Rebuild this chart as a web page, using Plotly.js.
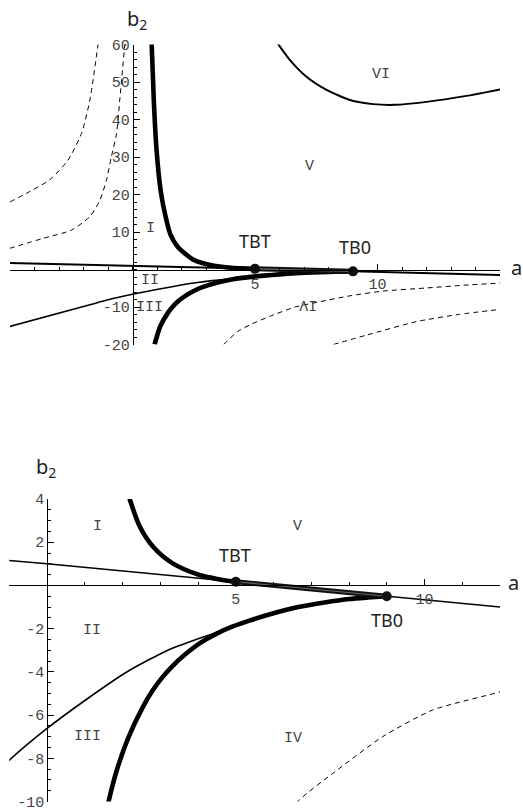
<!DOCTYPE html>
<html>
<head>
<meta charset="utf-8">
<script src="https://cdn.plot.ly/plotly-3.0.1.min.js"></script>
<style>
  html, body { margin: 0; padding: 0; background: #fff; }
  #chart { width: 523px; height: 812px; }
</style>
</head>
<body>
<div id="chart"></div>
<script>
// ---- data (a, b2) ----
// straight tangent line
const lineA = [-5, -1, 0, 5, 9, 12, 15];
const lineB = [1.75, 1.17, 1.0, 0.17, -0.5, -1.0, -1.5];

// thick upper branch (into TBT)
const upThickA = [0.78, 0.87, 0.98, 1.15, 1.32, 1.55, 1.85, 2.19, 2.45, 2.81, 3.33, 4.04, 4.5, 5.0];
const upThickB = [60.5, 45, 32, 21, 15, 9.3, 6.0, 4.0, 2.75, 1.79, 1.02, 0.48, 0.3, 0.17];

// thick lower branch (into TB0)
const lowThickA = [0.9, 1.13, 1.45, 1.63, 1.84, 2.14, 2.54, 2.8, 3.07, 3.33, 3.6, 4.04, 4.48, 4.92, 5.36, 6.0, 6.69, 7.35, 8.01, 8.5, 9.0];
const lowThickB = [-20, -15.2, -11.5, -10, -8.6, -7.1, -5.62, -4.85, -4.22, -3.72, -3.28, -2.68, -2.24, -1.9, -1.63, -1.29, -0.99, -0.79, -0.63, -0.56, -0.5];

// thin lower curve
const lowThinA = [-5.04, -1.74, -1, 0, 1.04, 2.1, 2.72, 3.16, 4.04, 4.92, 5.5, 6.0, 6.69, 7.35, 8.01, 8.5, 9.0];
const lowThinB = [-15.25, -9.4, -8.09, -6.62, -5.28, -4.02, -3.42, -3.03, -2.45, -1.92, -1.55, -1.29, -0.99, -0.79, -0.63, -0.56, -0.5];

// curve bounding region VI
const sixA = [5.88, 6.42, 7.1, 7.92, 8.87, 9.82, 10.71, 12.0, 13.63, 15.06];
const sixB = [60.7, 55.9, 51.4, 47.9, 45.2, 44.1, 43.9, 44.7, 46.3, 48.1];

// dashed curves
const dashOuterA = [-1.40, -1.74, -2.08, -2.63, -3.38, -4.33, -5.04];
const dashOuterB = [60.3, 45.2, 36.3, 29.2, 23.9, 20.3, 17.9];
const dashInnerA = [-0.31, -0.52, -0.65, -0.86, -1.06, -1.33, -1.74, -2.49, -3.65, -5.01];
const dashInnerB = [60.3, 45.2, 36.3, 30.1, 23.9, 18.5, 14.1, 10.5, 8.3, 5.65];
const dashFourA = [3.72, 4.3, 4.78, 5.6, 6.64, 7.57, 8.89, 10.21, 12.0, 13.5, 15.06];
const dashFourB = [-20, -16.5, -14.8, -12.5, -10.0, -8.7, -7.0, -5.77, -4.93, -4.2, -3.6];
const dashLowA = [8.2, 9.55, 11.59, 13.3, 15.06];
const dashLowB = [-20, -17.5, -13.9, -12.0, -10.6];

// special points
const ptNames = ['TBT', 'TB0'];
const ptA = [5, 9];
const ptB = [0.17, -0.5];

// ticks
const topXTicks = [5, 10];
const topYTicks = [-20, -10, 10, 20, 30, 40, 50, 60];
const botXTicks = [5, 10];
const botYTicks = [-10, -8, -6, -4, -2, 2, 4];

const lbl = v => String(v);   // plain hyphen minus, like the original

const mono = { family: 'Liberation Mono, DejaVu Sans Mono, monospace', size: 15, color: '#444' };
const sans = { family: 'Noto Sans, Open Sans, sans-serif', size: 18, color: '#222' };

function curveTraces(xa, ya, isTop) {
  const t = [];
  const add = (x, y, line) => t.push({ x, y, xaxis: xa, yaxis: ya, type: 'scatter', mode: 'lines',
                                       line, hoverinfo: 'skip' });
  const dash = { color: '#000', width: 1, dash: '5px,4px', shape: 'spline', smoothing: 0.6 };
  add(dashOuterA, dashOuterB, dash);
  add(dashInnerA, dashInnerB, dash);
  add(dashFourA, dashFourB, dash);
  add(dashLowA, dashLowB, dash);
  add(sixA, sixB, { color: '#000', width: 2, shape: 'spline', smoothing: 0.6 });
  add(lowThinA, lowThinB, { color: '#000', width: 1.6, shape: 'spline', smoothing: 0.6 });
  add(lineA, lineB, { color: '#000', width: isTop ? 2 : 1.6 });
  add(upThickA, upThickB, { color: '#000', width: 4.6, shape: 'spline', smoothing: 0.8 });
  add(lowThickA, lowThickB, { color: '#000', width: 4.6, shape: 'spline', smoothing: 0.6 });
  // doubled segment between the two points
  add(ptA, ptB, { color: '#111', width: 5 });
  add(ptA, ptB, { color: '#666', width: 1.2 });
  t.push({ x: ptA, y: ptB, xaxis: xa, yaxis: ya, type: 'scatter', mode: 'markers',
           marker: { color: '#111', size: 10 }, hoverinfo: 'skip' });
  return t;
}

const data = [...curveTraces('x', 'y', true), ...curveTraces('x2', 'y2', false)];

function axis(domain, range, position, tickvals, minorStep) {
  return {
    domain, range, anchor: 'free', position,
    showline: true, linecolor: '#000', linewidth: 1,
    showgrid: false, zeroline: false,
    ticks: 'inside', ticklen: 6, tickcolor: '#000', tickwidth: 1,
    tickmode: 'array', tickvals, ticktext: tickvals.map(lbl),
    minor: { tickmode: 'linear', tick0: 0, dtick: minorStep, ticks: 'inside', ticklen: 3,
             tickcolor: '#000', tickwidth: 1 },
    tickfont: mono, fixedrange: true
  };
}

function region(text, x, y, xref, yref, angle) {
  return { text, x, y, xref, yref, showarrow: false, font: mono, textangle: angle || 0,
           xanchor: 'center', yanchor: 'middle' };
}
function tag(text, x, y, xref, yref) {
  return { text, x, y, xref, yref, showarrow: false, font: sans,
           xanchor: 'center', yanchor: 'middle' };
}
function axisName(text, px, py) {
  return { text, x: px / 523, y: 1 - py / 812, xref: 'paper', yref: 'paper',
           xanchor: 'center', yanchor: 'middle', showarrow: false, font: { ...sans, size: 20 } };
}

const annotations = [
  // top panel
  region('I', 0.73, 11, 'x', 'y'),
  region('II', 0.71, -2.8, 'x', 'y'),
  region('III', 0.71, -10.1, 'x', 'y'),
  region('V', 7.24, 27.4, 'x', 'y'),
  region('VI', 10.16, 52.1, 'x', 'y'),
  region('IV', 7.17, -9.5, 'x', 'y', 180),
  tag(ptNames[0], 5.0, 7.7, 'x', 'y'),
  tag(ptNames[1], 9.07, 6.1, 'x', 'y'),
  // bottom panel
  region('I', 1.33, 2.74, 'x2', 'y2'),
  region('V', 6.64, 2.74, 'x2', 'y2'),
  region('II', 1.2, -2.1, 'x2', 'y2'),
  region('III', 1.06, -6.98, 'x2', 'y2'),
  region('IV', 6.51, -7.08, 'x2', 'y2'),
  tag(ptNames[0], 4.97, 1.4, 'x2', 'y2'),
  tag(ptNames[1], 9.0, -1.6, 'x2', 'y2'),
  // axis names
  axisName('b<sub>2</sub>', 137, 19),
  axisName('a', 516, 267),
  axisName('b<sub>2</sub>', 46, 468),
  axisName('a', 513, 582)
];

const layout = {
  width: 523, height: 812,
  margin: { l: 0, r: 0, t: 0, b: 0 },
  paper_bgcolor: '#fff', plot_bgcolor: 'rgba(0,0,0,0)',
  showlegend: false, hovermode: false,
  xaxis:  axis([10 / 523, 500 / 523], [-5, 15], 1 - 269.5 / 812, topXTicks, 1),
  yaxis:  axis([1 - 344.5 / 812, 1 - 44.5 / 812], [-20, 60], 132.7 / 523, topYTicks, 2),
  xaxis2: axis([9.3 / 523, 500 / 523], [-1, 12], 1 - 585.3 / 812, botXTicks, 1),
  yaxis2: axis([1 - 801.5 / 812, 1 - 499 / 812], [-10, 4], 47.3 / 523, botYTicks, 0.5),
  annotations
};

Plotly.newPlot('chart', data, layout, { staticPlot: true });
</script>
</body>
</html>
